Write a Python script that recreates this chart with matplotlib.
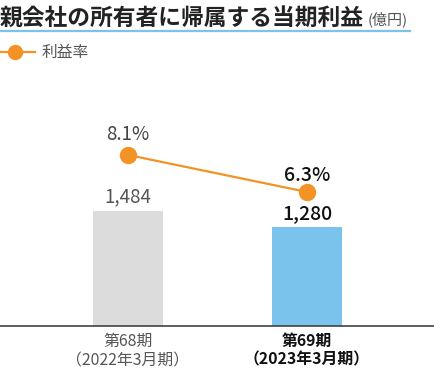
import matplotlib
matplotlib.use("Agg")
import matplotlib.pyplot as plt
from matplotlib.lines import Line2D

plt.rcParams['font.family'] = ['Noto Sans CJK JP', 'DejaVu Sans']

# data
periods = ["第68期\n（2022年3月期）", "第69期\n（2023年3月期）"]
profit = [1484, 1280]          # 億円
profit_labels = ["1,484", "1,280"]
margin = [8.1, 6.3]            # %
margin_labels = ["8.1%", "6.3%"]

bar_colors = ["#dcdcdd", "#7ac3ec"]
orange = "#f39325"
blue_line = "#7ac3ec"

W, H = 435, 370
fig = plt.figure(figsize=(W / 100, H / 100), dpi=100)

# title
fig.text(0.0, 1 - 18 / H, "親会社の所有者に帰属する当期利益", fontsize=16.4,
         fontweight='bold', color="#222222", va='center', ha='left')
fig.text(368 / W, 1 - 19 / H, "(億円)", fontsize=10.8, color="#555555",
         va='center', ha='left')
fig.add_artist(Line2D([0, 410 / W], [1 - 31 / H, 1 - 31 / H],
                      color=blue_line, lw=1.6))

# legend
fig.add_artist(Line2D([0, 35 / W], [1 - 52 / H, 1 - 52 / H], color=orange, lw=1.6))
fig.add_artist(Line2D([15 / W], [1 - 52 / H], marker='o', markersize=10,
                      color=orange, lw=0))
fig.text(42 / W, 1 - 52 / H, "利益率", fontsize=11.3, color="#555555",
         va='center', ha='left')

# main axes
ax = fig.add_axes([0, 44 / H, 1, 246 / H])
x = [0, 1]
ax.bar(x, profit, width=70 / 179, color=bar_colors, zorder=2)
ax.set_xlim(-128 / 179, (W - 128) / 179)
ax.set_ylim(0, 246 / 0.0775)
for s in ['top', 'left', 'right']:
    ax.spines[s].set_visible(False)
ax.spines['bottom'].set_color("#333333")
ax.spines['bottom'].set_linewidth(1.1)
ax.set_yticks([])
ax.set_xticks(x)
ax.set_xticklabels(periods, fontsize=11.4, linespacing=1.22)
ax.tick_params(axis='x', length=0, pad=5)
tl = ax.get_xticklabels()
tl[0].set_color("#555555")
tl[1].set_color("#111111")
tl[1].set_fontweight('bold')

ax.annotate(profit_labels[0], (x[0], profit[0]), xytext=(0, 3),
            textcoords='offset points', ha='center', va='bottom',
            fontsize=13.5, color="#555555")
ax.annotate(profit_labels[1], (x[1], profit[1]), xytext=(0, 3),
            textcoords='offset points', ha='center', va='bottom',
            fontsize=14, color="#111111", fontweight='medium')

# margin line
ax2 = ax.twinx()
ax2.set_ylim(-(326 - 321.5) / 20.56, (321.5 - 80) / 20.56)
ax2.plot(x, margin, color=orange, lw=1.6, marker='o', markersize=11.5, zorder=3)
ax2.axis('off')
ax2.annotate(margin_labels[0], (x[0], margin[0]), xytext=(0, 7),
             textcoords='offset points', ha='center', va='bottom',
             fontsize=13.5, color="#444444")
ax2.annotate(margin_labels[1], (x[1], margin[1]), xytext=(0, 5),
             textcoords='offset points', ha='center', va='bottom',
             fontsize=14, color="#111111", fontweight='medium')

fig.savefig("out.png", dpi=100)
